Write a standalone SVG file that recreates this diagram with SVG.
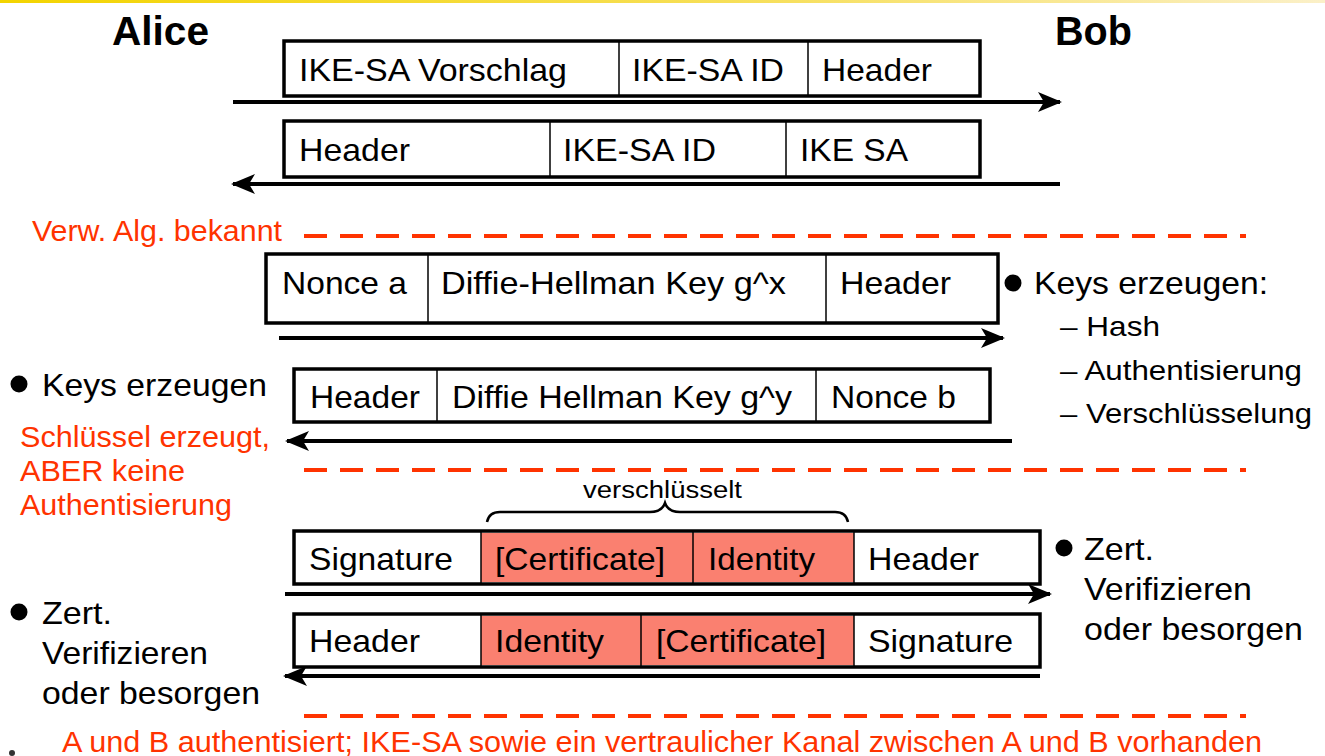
<svg xmlns="http://www.w3.org/2000/svg" width="1325" height="756" viewBox="0 0 1325 756">
  <defs>
    <linearGradient id="topbar" x1="0" y1="0" x2="1" y2="0">
      <stop offset="0" stop-color="#f3d400"/>
      <stop offset="0.6" stop-color="#f7e060"/>
      <stop offset="1" stop-color="#fbf0c8"/>
    </linearGradient>
    <marker id="head" viewBox="0 0 24 20" refX="22" refY="10" markerWidth="24" markerHeight="20" markerUnits="userSpaceOnUse" orient="auto-start-reverse">
      <path d="M0,0 L24,10 L0,20 L6,10 Z" fill="#000"/>
    </marker>
    <style>
      text { font-family: "Liberation Sans", Arial, Helvetica, sans-serif; fill: #000; }
      .title { font-size: 41px; font-weight: bold; }
      .cell { font-size: 32px; }
      .note { font-size: 32px; }
      .sub { font-size: 28px; }
      .red { fill: #ff3300; font-size: 29px; }
      .small { font-size: 23px; }
      .frame { fill: #fff; stroke: #000; stroke-width: 3.5; }
      .enc { fill: #fa8070; stroke: none; }
      .div { stroke: #000; stroke-width: 1.5; }
      .msg { stroke: #000; stroke-width: 4; fill: none; }
      .phase { stroke: #ff3300; stroke-width: 4; stroke-dasharray: 23 13; fill: none; }
      .dot { fill: #000; }
    </style>
  </defs>

  <rect width="1325" height="756" fill="#fff"/>
  <rect x="0" y="0" width="1325" height="3" fill="url(#topbar)"/>

  <!-- parties -->
  <g id="alice"><text class="title" x="112" y="45" textLength="97" lengthAdjust="spacingAndGlyphs">Alice</text></g>
  <g id="bob"><text class="title" x="1055" y="45" textLength="77" lengthAdjust="spacingAndGlyphs">Bob</text></g>

  <!-- message 1: Alice -> Bob -->
  <g id="msg1">
    <rect class="frame" x="284" y="41" width="696" height="55"/>
    <line class="div" x1="619" y1="41" x2="619" y2="96"/>
    <line class="div" x1="808" y1="41" x2="808" y2="96"/>
    <text class="cell" x="299" y="81" textLength="268" lengthAdjust="spacingAndGlyphs">IKE-SA Vorschlag</text>
    <text class="cell" x="632" y="81" textLength="152" lengthAdjust="spacingAndGlyphs">IKE-SA ID</text>
    <text class="cell" x="822" y="81" textLength="110" lengthAdjust="spacingAndGlyphs">Header</text>
  </g>

  <!-- message 2: Bob -> Alice -->
  <g id="msg2">
    <rect class="frame" x="284" y="121" width="696" height="56"/>
    <line class="div" x1="550" y1="121" x2="550" y2="177"/>
    <line class="div" x1="786" y1="121" x2="786" y2="177"/>
    <text class="cell" x="299" y="161" textLength="111" lengthAdjust="spacingAndGlyphs">Header</text>
    <text class="cell" x="563" y="161" textLength="153" lengthAdjust="spacingAndGlyphs">IKE-SA ID</text>
    <text class="cell" x="800" y="161" textLength="108" lengthAdjust="spacingAndGlyphs">IKE SA</text>
  </g>

  <!-- message 3: Alice -> Bob -->
  <g id="msg3">
    <rect class="frame" x="266" y="254" width="732" height="69"/>
    <line class="div" x1="428" y1="254" x2="428" y2="323"/>
    <line class="div" x1="826" y1="254" x2="826" y2="323"/>
    <text class="cell" x="282" y="294" textLength="125" lengthAdjust="spacingAndGlyphs">Nonce a</text>
    <text class="cell" x="441" y="294" textLength="345" lengthAdjust="spacingAndGlyphs">Diffie-Hellman Key g^x</text>
    <text class="cell" x="840" y="294" textLength="111" lengthAdjust="spacingAndGlyphs">Header</text>
  </g>

  <!-- message 4: Bob -> Alice -->
  <g id="msg4">
    <rect class="frame" x="294" y="369" width="696" height="53"/>
    <line class="div" x1="437" y1="369" x2="437" y2="422"/>
    <line class="div" x1="816" y1="369" x2="816" y2="422"/>
    <text class="cell" x="310" y="408" textLength="110" lengthAdjust="spacingAndGlyphs">Header</text>
    <text class="cell" x="452" y="408" textLength="340" lengthAdjust="spacingAndGlyphs">Diffie Hellman Key g^y</text>
    <text class="cell" x="831" y="408" textLength="125" lengthAdjust="spacingAndGlyphs">Nonce b</text>
  </g>

  <!-- message 5: Alice -> Bob, encrypted part -->
  <g id="msg5">
    <rect class="frame" x="294" y="531" width="746" height="53"/>
    <rect class="enc" x="481" y="533" width="373" height="49"/>
    <line class="div" x1="481" y1="531" x2="481" y2="584"/>
    <line class="div" x1="693" y1="531" x2="693" y2="584"/>
    <line class="div" x1="854" y1="531" x2="854" y2="584"/>
    <text class="cell" x="309" y="570" textLength="144" lengthAdjust="spacingAndGlyphs">Signature</text>
    <text class="cell" x="495" y="570" textLength="170" lengthAdjust="spacingAndGlyphs">[Certificate]</text>
    <text class="cell" x="708" y="570" textLength="107" lengthAdjust="spacingAndGlyphs">Identity</text>
    <text class="cell" x="868" y="570" textLength="111" lengthAdjust="spacingAndGlyphs">Header</text>
  </g>

  <!-- brace over the encrypted fields -->
  <g id="brace">
    <path d="M487,522 Q489,512 500,512 L650,512 Q662,512 665,503 Q668,512 680,512 L835,512 Q846,512 848,522" fill="none" stroke="#000" stroke-width="2.5"/>
    <text class="small" x="583" y="498" textLength="159" lengthAdjust="spacingAndGlyphs">verschlüsselt</text>
  </g>

  <!-- message 6: Bob -> Alice, encrypted part -->
  <g id="msg6">
    <rect class="frame" x="294" y="614" width="746" height="53"/>
    <rect class="enc" x="481" y="616" width="373" height="49"/>
    <line class="div" x1="481" y1="614" x2="481" y2="667"/>
    <line class="div" x1="641" y1="614" x2="641" y2="667"/>
    <line class="div" x1="854" y1="614" x2="854" y2="667"/>
    <text class="cell" x="309" y="652" textLength="111" lengthAdjust="spacingAndGlyphs">Header</text>
    <text class="cell" x="495" y="652" textLength="109" lengthAdjust="spacingAndGlyphs">Identity</text>
    <text class="cell" x="656" y="652" textLength="170" lengthAdjust="spacingAndGlyphs">[Certificate]</text>
    <text class="cell" x="868" y="652" textLength="145" lengthAdjust="spacingAndGlyphs">Signature</text>
  </g>

  <!-- message arrows -->
  <g id="connectors">
    <line class="msg" x1="233" y1="102" x2="1060" y2="102" marker-end="url(#head)"/>
    <line class="msg" x1="233" y1="184" x2="1060" y2="184" marker-start="url(#head)"/>
    <line class="msg" x1="279" y1="338" x2="1003" y2="338" marker-end="url(#head)"/>
    <line class="msg" x1="287" y1="441" x2="1012" y2="441" marker-start="url(#head)"/>
    <line class="msg" x1="285" y1="594" x2="1050" y2="594" marker-end="url(#head)"/>
    <line class="msg" x1="285" y1="676" x2="1040" y2="676" marker-start="url(#head)"/>
  </g>

  <!-- phase separators -->
  <g id="phases">
    <line class="phase" x1="304" y1="236" x2="1246" y2="236"/>
    <line class="phase" x1="304" y1="470" x2="1246" y2="470"/>
    <line class="phase" x1="304" y1="716" x2="1246" y2="716"/>
    <text class="red" x="32" y="241" textLength="250" lengthAdjust="spacingAndGlyphs">Verw. Alg. bekannt</text>
    <text class="red" x="20" y="447" textLength="250" lengthAdjust="spacingAndGlyphs">Schlüssel erzeugt,</text>
    <text class="red" x="20" y="481" textLength="165" lengthAdjust="spacingAndGlyphs">ABER keine</text>
    <text class="red" x="20" y="515" textLength="212" lengthAdjust="spacingAndGlyphs">Authentisierung</text>
    <text class="red" x="62" y="752" textLength="1200" lengthAdjust="spacingAndGlyphs">A und B authentisiert; IKE-SA sowie ein vertraulicher Kanal zwischen A und B vorhanden</text>
  </g>

  <!-- Bob: key generation -->
  <g id="bob-keys">
    <circle class="dot" cx="1013" cy="283" r="8.5"/>
    <text class="note" x="1034" y="294" textLength="234" lengthAdjust="spacingAndGlyphs">Keys erzeugen:</text>
    <text class="sub" x="1060" y="336" textLength="100" lengthAdjust="spacingAndGlyphs">– Hash</text>
    <text class="sub" x="1060" y="380" textLength="242" lengthAdjust="spacingAndGlyphs">– Authentisierung</text>
    <text class="sub" x="1060" y="423" textLength="252" lengthAdjust="spacingAndGlyphs">– Verschlüsselung</text>
  </g>

  <!-- Alice: key generation -->
  <g id="alice-keys">
    <circle class="dot" cx="19" cy="384" r="8.5"/>
    <text class="note" x="42" y="396" textLength="225" lengthAdjust="spacingAndGlyphs">Keys erzeugen</text>
  </g>

  <!-- Bob: certificate check -->
  <g id="bob-cert">
    <circle class="dot" cx="1064" cy="548" r="8.5"/>
    <text class="note" x="1084" y="560" textLength="70" lengthAdjust="spacingAndGlyphs">Zert.</text>
    <text class="note" x="1084" y="600" textLength="168" lengthAdjust="spacingAndGlyphs">Verifizieren</text>
    <text class="note" x="1084" y="640" textLength="219" lengthAdjust="spacingAndGlyphs">oder besorgen</text>
  </g>

  <!-- Alice: certificate check -->
  <g id="alice-cert">
    <circle class="dot" cx="19" cy="612" r="8.5"/>
    <text class="note" x="42" y="624" textLength="70" lengthAdjust="spacingAndGlyphs">Zert.</text>
    <text class="note" x="42" y="664" textLength="166" lengthAdjust="spacingAndGlyphs">Verifizieren</text>
    <text class="note" x="42" y="704" textLength="218" lengthAdjust="spacingAndGlyphs">oder besorgen</text>
  </g>

  <circle cx="12" cy="753" r="3" fill="#333"/>
</svg>
